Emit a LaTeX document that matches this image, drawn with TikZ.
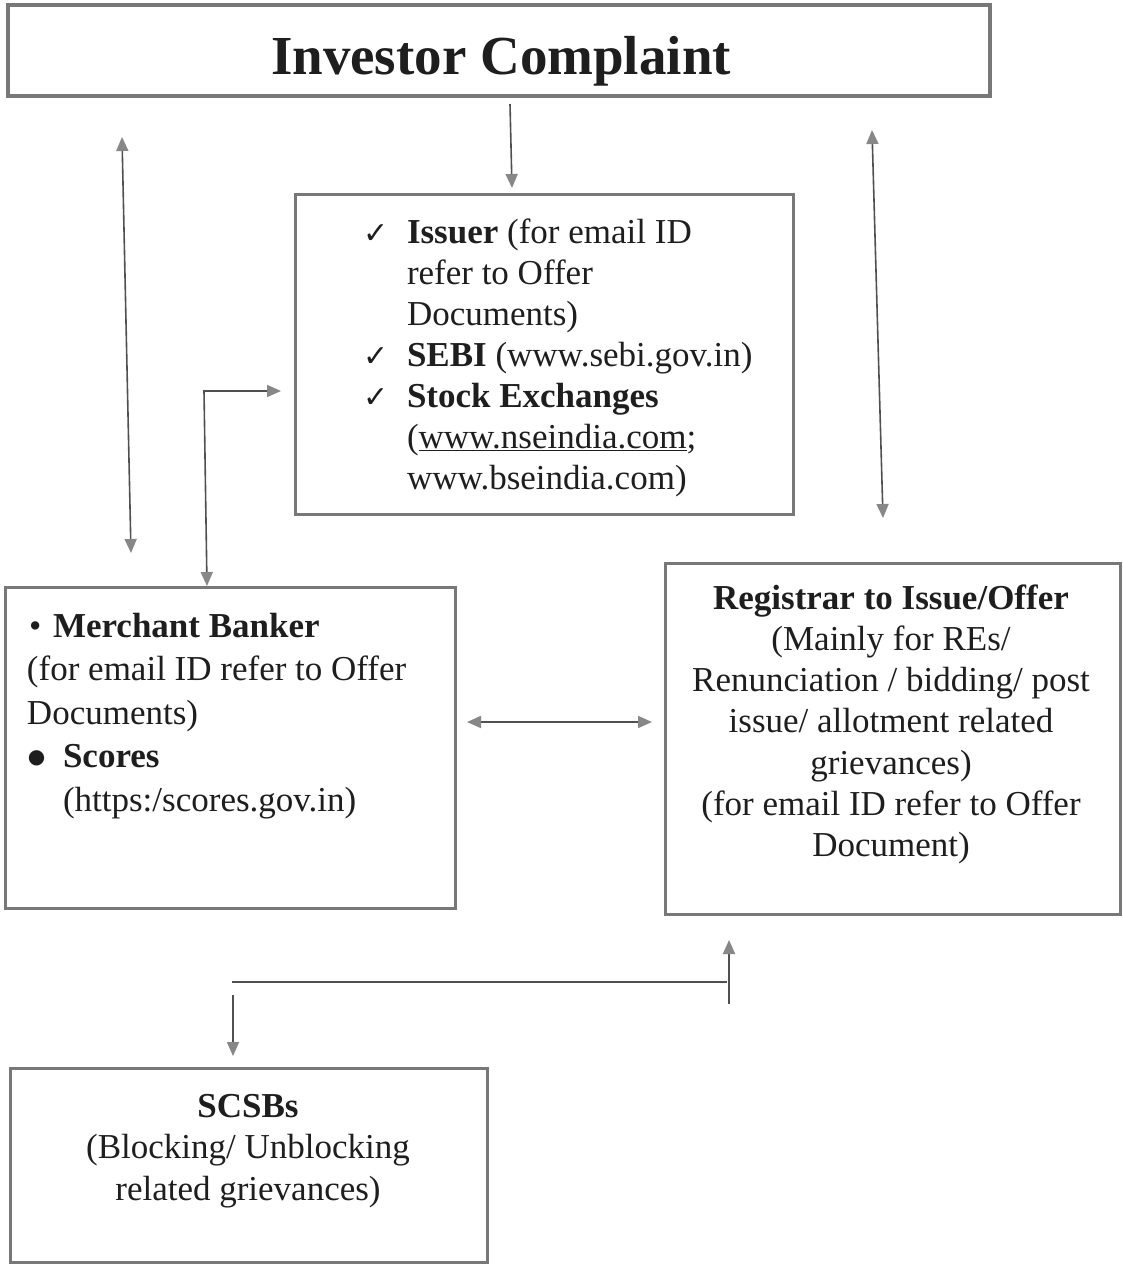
\documentclass[tikz,border=0pt]{standalone}
\usepackage{fontspec}
\setmainfont{Liberation Serif}
\newfontfamily\symfont{DejaVu Sans}
\usetikzlibrary{arrows.meta,calc}
\definecolor{boxgray}{RGB}{120,120,120}
\definecolor{linegray}{RGB}{80,80,80}
\definecolor{headgray}{RGB}{135,135,135}
\definecolor{inkgray}{RGB}{30,30,30}
\newcommand{\chk}{\makebox[44pt][l]{\symfont\fontsize{30}{30}\selectfont ✓}}
\begin{document}
\begin{tikzpicture}[x=1pt,y=-1pt,
  box/.style={draw=boxgray, line width=3pt, rectangle, inner sep=0pt, outer sep=0pt, anchor=north west},
  txt/.style={inner sep=0pt, outer sep=0pt, text=inkgray},
  con/.style={draw=linegray, line width=1.6pt},
  tipend/.style={-{Triangle[length=14pt,width=12pt,color=headgray]}},
  tipboth/.style={{Triangle[length=14pt,width=12pt,color=headgray]}-{Triangle[length=14pt,width=12pt,color=headgray]}}]
\useasboundingbox (0,0) rectangle (1123,1266);
\fill[white] (0,0) rectangle (1123,1266);

% boxes
\node[box, line width=4pt, minimum width=982pt, minimum height=91pt] (title) at (8,5) {};
\node[box, minimum width=498pt, minimum height=320pt] (issuer) at (295,194) {};
\node[box, minimum width=450pt, minimum height=321pt] (merchant) at (5,587) {};
\node[box, minimum width=455pt, minimum height=351pt] (registrar) at (665,563) {};
\node[box, minimum width=477pt, minimum height=194pt] (scsb) at (10,1068) {};

% texts
\node[txt, anchor=base, font=\bfseries\fontsize{55}{60}\selectfont] (ttext) at (501,74) {Investor Complaint};

\node[txt, anchor=base west, font=\fontsize{35}{41}\selectfont] (itext) at (363,243)
{\begin{tabular}[t]{@{}l@{}l@{}}
\chk & \textbf{Issuer} (for email ID\\
 & refer to Offer\\
 & Documents)\\
\chk & \textbf{SEBI} (www.sebi.gov.in)\\
\chk & \textbf{Stock Exchanges}\\
 & (\underline{www.nseindia.com};\\
 & www.bseindia.com)
\end{tabular}};

\node[txt, anchor=base west, font=\fontsize{35}{43.5}\selectfont] (mtext) at (27,637)
{\begin{tabular}[t]{@{}l@{}}
\makebox[26pt][l]{\hspace{2pt}•}\textbf{Merchant Banker}\\
(for email ID refer to Offer\\
Documents)\\
\makebox[36pt][l]{\hspace{1pt}\raisebox{4pt}{\symfont\fontsize{20}{20}\selectfont ●}}\textbf{Scores}\\
\hspace{36pt}(https:/scores.gov.in)
\end{tabular}};

\node[txt, anchor=base, font=\fontsize{35}{41.3}\selectfont] (rtext) at (891,609)
{\begin{tabular}[t]{@{}c@{}}
\textbf{Registrar to Issue/Offer}\\
(Mainly for REs/\\
Renunciation / bidding/ post\\
issue/ allotment related\\
grievances)\\
(for email ID refer to Offer\\
Document)
\end{tabular}};

\node[txt, anchor=base, font=\fontsize{35}{41.5}\selectfont] (stext) at (248,1117)
{\begin{tabular}[t]{@{}c@{}}
\textbf{SCSBs}\\
(Blocking/ Unblocking\\
related grievances)
\end{tabular}};

% connectors
\draw[con, tipend] ($(title.south)+(11,8)$) -- ($(issuer.north)+(-32,-6)$);
\draw[con, tipboth] ($(title.south west)+(114,41)$) -- ($(merchant.north west)+(126,-34)$);
\coordinate (elbow) at (204,391);
\draw[con, tipboth] ($(issuer.west)+(-14,37)$) -- (elbow) -- ($(merchant.north west)+(202,-1)$);
\draw[con, tipboth] ($(title.south east)+(-118,34)$) -- ($(registrar.north west)+(218,-45)$);
\draw[con, tipboth] ($(merchant.east)+(12,-25.5)$) -- ($(registrar.west)+(-13,-16.5)$);
\coordinate (bl) at (232,982);
\coordinate (br) at (727,982);
\draw[con] (bl) -- (br);
\draw[con, tipend] ($(registrar.south west)+(64,90)$) -- ($(registrar.south west)+(64,26)$);
\draw[con, tipend] ($(scsb.north west)+(223,-73)$) -- ($(scsb.north west)+(223,-12)$);
\end{tikzpicture}
\end{document}
